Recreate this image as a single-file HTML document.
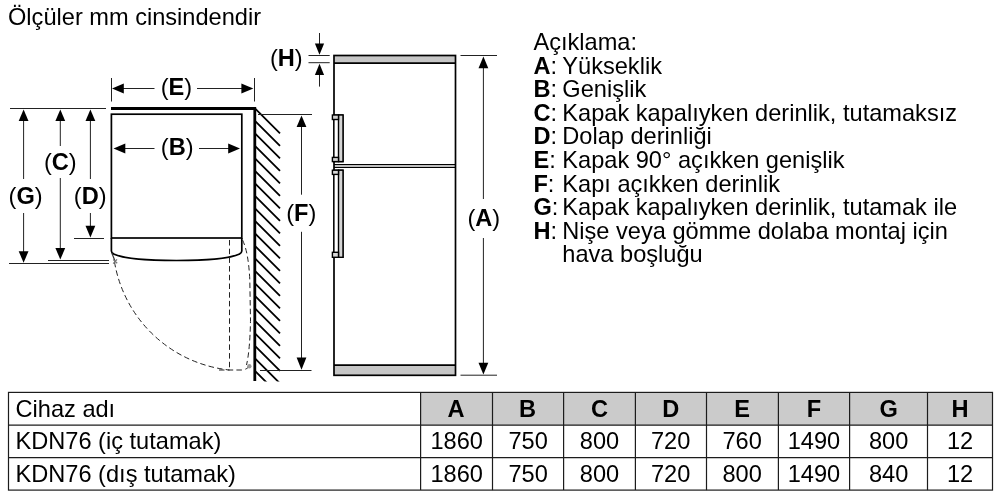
<!DOCTYPE html>
<html>
<head>
<meta charset="utf-8">
<title>Ölçüler</title>
<style>
html,body{margin:0;padding:0;background:#fff;}
body{width:1000px;height:500px;overflow:hidden;font-family:"Liberation Sans",sans-serif;}
svg{display:block;position:absolute;left:0;top:0;will-change:transform;}
svg text{font-family:"Liberation Sans",sans-serif;font-size:23.6px;fill:#000;}
.b{font-weight:bold;}
.thin{stroke:#222;stroke-width:1;fill:none;}
.med{stroke:#000;stroke-width:1.7;fill:none;}
.dash{stroke:#222;stroke-width:1;fill:none;stroke-dasharray:5.5 3.2;}
.ah{fill:#000;stroke:none;}
.hat{stroke:#000;stroke-width:1.8;fill:none;}
</style>
</head>
<body>
<svg width="1000" height="500" viewBox="0 0 1000 500">
<defs>
<clipPath id="wallclip"><rect x="250" y="100" width="40" height="281.5"/></clipPath>
</defs>
<rect x="0" y="0" width="1000" height="500" fill="#fff"/>

<!-- Title -->
<text x="8" y="24.8">Ölçüler mm cinsindendir</text>

<!-- ============ TOP VIEW ============ -->
<!-- reference lines left -->
<line class="thin" x1="10" y1="108.5" x2="106" y2="108.5"/>
<line class="thin" x1="9" y1="263.5" x2="109" y2="263.5"/>
<line class="thin" x1="48" y1="260.5" x2="109" y2="260.5"/>
<line class="thin" x1="74" y1="238.5" x2="104" y2="238.5"/>

<!-- G arrow -->
<line class="thin" x1="23.6" y1="115" x2="23.6" y2="179"/>
<line class="thin" x1="23.6" y1="213" x2="23.6" y2="256"/>
<!-- C arrow -->
<line class="thin" x1="60.3" y1="115" x2="60.3" y2="146"/>
<line class="thin" x1="60.3" y1="178" x2="60.3" y2="253"/>
<!-- D arrow -->
<line class="thin" x1="90.4" y1="115" x2="90.4" y2="179"/>
<line class="thin" x1="90.4" y1="213" x2="90.4" y2="230"/>

<!-- E dimension -->
<line class="thin" x1="111.5" y1="78" x2="111.5" y2="101.5"/>
<line class="thin" x1="254.5" y1="78" x2="254.5" y2="101.5"/>
<line class="thin" x1="120" y1="88.5" x2="154.5" y2="88.5"/>
<line class="thin" x1="197" y1="88.5" x2="245" y2="88.5"/>

<!-- thick top line -->
<line x1="111" y1="108.4" x2="256" y2="108.4" stroke="#000" stroke-width="3"/>

<!-- cabinet box -->
<rect class="med" x="111.4" y="114.2" width="130.4" height="123.8"/>
<!-- door -->
<path class="med" d="M111.4,238 V251 Q111.5,253 113.6,253.9 C132,262.7 221,262.7 239.6,253.9 Q241.7,253 241.8,251 V238"/>

<!-- B dimension -->
<line class="thin" x1="122" y1="148.5" x2="154.5" y2="148.5"/>
<line class="thin" x1="199" y1="148.5" x2="232" y2="148.5"/>

<!-- wall -->
<line x1="254.8" y1="107" x2="254.8" y2="381" stroke="#000" stroke-width="2.8"/>
<g clip-path="url(#wallclip)" class="hat">
<path d="M255.2,108.6 l24.8,24.8 M255.2,121.1 l24.8,24.8 M255.2,133.6 l24.8,24.8 M255.2,146.1 l24.8,24.8 M255.2,158.6 l24.8,24.8 M255.2,171.1 l24.8,24.8 M255.2,183.6 l24.8,24.8 M255.2,196.1 l24.8,24.8 M255.2,208.6 l24.8,24.8 M255.2,221.1 l24.8,24.8 M255.2,233.6 l24.8,24.8 M255.2,246.1 l24.8,24.8 M255.2,258.6 l24.8,24.8 M255.2,271.1 l24.8,24.8 M255.2,283.6 l24.8,24.8 M255.2,296.1 l24.8,24.8 M255.2,308.6 l24.8,24.8 M255.2,321.1 l24.8,24.8 M255.2,333.6 l24.8,24.8 M255.2,346.1 l24.8,24.8 M255.2,358.6 l24.8,24.8 M255.2,371.1 l24.8,24.8"/>
</g>

<!-- dashed door swing -->
<path class="dash" d="M114.5,262 A130.5,130.5 0 0 0 229.5,370"/>
<path class="dash" d="M229.5,240 L229.5,370"/>
<path class="dash" d="M242.5,240 Q248.5,252 249.8,280 L250.5,320 Q250,350 246.5,365"/>
<path class="dash" d="M219,370 L242,370 Q246,369.5 248,367.5"/>
<circle cx="249.3" cy="366.2" r="2.2" fill="#999"/>
<path d="M111.8,253 L115.4,262" stroke="#333" stroke-width="1.2" fill="none"/>
<path d="M113.2,259.6 l4,3.6 M117,259.4 l-3.8,4.2" stroke="#777" stroke-width="1.3" fill="none"/>

<!-- F dimension -->
<line class="thin" x1="258" y1="114.5" x2="312" y2="114.5"/>
<line class="thin" x1="260" y1="370.5" x2="311.5" y2="370.5"/>
<line class="thin" x1="301.5" y1="122" x2="301.5" y2="194.7"/>
<line class="thin" x1="301.5" y1="231.8" x2="301.5" y2="360"/>

<!-- ============ SIDE VIEW ============ -->
<!-- gray bands -->
<rect x="334" y="55.5" width="121.5" height="7.8" fill="#c6c6c6"/>
<rect x="334" y="365" width="121.5" height="10.3" fill="#c6c6c6"/>
<rect class="med" x="334" y="55.5" width="121.5" height="319.8"/>
<line class="thin" x1="334" y1="63.1" x2="455.5" y2="63.1" style="stroke-width:1.7;stroke:#000"/>
<line class="thin" x1="334" y1="365.2" x2="455.5" y2="365.2" style="stroke-width:1.7;stroke:#000"/>
<!-- divider -->
<line class="thin" x1="334" y1="164.7" x2="455.5" y2="164.7" style="stroke-width:1.2;stroke:#000"/>
<line class="thin" x1="334" y1="167.3" x2="455.5" y2="167.3" style="stroke-width:1.2;stroke:#000"/>

<!-- upper handle -->
<g>
<rect x="333.9" y="115" width="9.1" height="46.6" fill="#fff" stroke="#000" stroke-width="1.4"/>
<rect x="338.5" y="115" width="4.5" height="46.6" fill="#d4d4d4" stroke="#000" stroke-width="1.4"/>
<rect x="332.4" y="115" width="6.1" height="4.5" fill="#d0d0d0" stroke="#000" stroke-width="1.4"/>
<rect x="332.4" y="157.4" width="6.1" height="4.2" fill="#d0d0d0" stroke="#000" stroke-width="1.4"/>
</g>
<!-- lower handle -->
<g>
<rect x="333.9" y="170.2" width="9.1" height="87.1" fill="#fff" stroke="#000" stroke-width="1.4"/>
<rect x="338.5" y="170.2" width="4.5" height="87.1" fill="#d4d4d4" stroke="#000" stroke-width="1.4"/>
<rect x="332.4" y="170.2" width="6.1" height="4.2" fill="#d8d8d8" stroke="#000" stroke-width="1.4"/>
<rect x="332.4" y="252.3" width="6.1" height="5.0" fill="#d8d8d8" stroke="#000" stroke-width="1.4"/>
</g>

<!-- H dimension -->
<line class="thin" x1="308.5" y1="55.5" x2="329.7" y2="55.5"/>
<line class="thin" x1="308.5" y1="62.7" x2="329.7" y2="62.7"/>
<line class="thin" x1="319.5" y1="33" x2="319.5" y2="46"/>
<line class="thin" x1="319.5" y1="74" x2="319.5" y2="86.6"/>

<!-- A dimension -->
<line class="thin" x1="460.5" y1="55.5" x2="497" y2="55.5"/>
<line class="thin" x1="460.5" y1="375.2" x2="497" y2="375.2"/>
<line class="thin" x1="483.4" y1="64" x2="483.4" y2="199"/>
<line class="thin" x1="483.4" y1="238" x2="483.4" y2="365"/>

<!-- arrowheads -->
<polygon class="ah" points="23.6,109.4 18.7,121.0 28.5,121.0"/>
<polygon class="ah" points="23.6,262.8 18.7,251.2 28.5,251.2"/>
<polygon class="ah" points="60.3,109.4 55.4,121.0 65.2,121.0"/>
<polygon class="ah" points="60.3,259.6 55.4,248 65.2,248"/>
<polygon class="ah" points="90.4,109.4 85.5,121.0 95.3,121.0"/>
<polygon class="ah" points="90.4,237.4 85.5,225.8 95.3,225.8"/>
<polygon class="ah" points="112,88.5 123.8,83.6 123.8,93.4"/>
<polygon class="ah" points="253.3,88.5 241.4,83.6 241.4,93.4"/>
<polygon class="ah" points="113.5,148.5 125.3,143.6 125.3,153.4"/>
<polygon class="ah" points="240,148.5 228.2,143.6 228.2,153.4"/>
<polygon class="ah" points="301.5,115.4 296.6,127.0 306.4,127.0"/>
<polygon class="ah" points="301.5,369.8 296.6,357.4 306.4,357.4"/>
<polygon class="ah" points="319.5,54.8 314.9,43.6 324.1,43.6"/>
<polygon class="ah" points="319.5,63.8 314.9,75.0 324.1,75.0"/>
<polygon class="ah" points="483.4,56.6 478.5,68.2 488.3,68.2"/>
<polygon class="ah" points="483.4,374.4 478.5,362.8 488.3,362.8"/>

<!-- labels -->
<g text-anchor="middle">
<text x="176.4" y="94.8">(<tspan class="b">E</tspan>)</text>
<text x="177.2" y="155">(<tspan class="b">B</tspan>)</text>
<text x="286.3" y="65.9">(<tspan class="b">H</tspan>)</text>
<text x="60.3" y="170.4">(<tspan class="b">C</tspan>)</text>
<text x="25.6" y="204.2">(<tspan class="b">G</tspan>)</text>
<text x="90.2" y="204.2">(<tspan class="b">D</tspan>)</text>
<text x="301.3" y="220.5">(<tspan class="b">F</tspan>)</text>
<text x="483.8" y="225.5">(<tspan class="b">A</tspan>)</text>
</g>

<!-- ============ LEGEND ============ -->
<g id="legend">
<text x="533.4" y="50">Açıklama:</text>
<text x="533.4" y="73.6"><tspan class="b">A</tspan>:</text><text x="562.3" y="73.6">Yükseklik</text>
<text x="533.4" y="97.2"><tspan class="b">B</tspan>:</text><text x="562.3" y="97.2">Genişlik</text>
<text x="533.4" y="120.8"><tspan class="b">C</tspan>:</text><text x="562.3" y="120.8">Kapak kapalıyken derinlik, tutamaksız</text>
<text x="533.4" y="144.4"><tspan class="b">D</tspan>:</text><text x="562.3" y="144.4">Dolap derinliği</text>
<text x="533.4" y="168.0"><tspan class="b">E</tspan>:</text><text x="562.3" y="168.0">Kapak 90° açıkken genişlik</text>
<text x="533.4" y="191.6"><tspan class="b">F</tspan>:</text><text x="562.3" y="191.6">Kapı açıkken derinlik</text>
<text x="533.4" y="215.2"><tspan class="b">G</tspan>:</text><text x="562.3" y="215.2">Kapak kapalıyken derinlik, tutamak ile</text>
<text x="533.4" y="238.8"><tspan class="b">H</tspan>:</text><text x="562.3" y="238.8">Nişe veya gömme dolaba montaj için</text>
<text x="562.3" y="262.4">hava boşluğu</text>
</g>

<!-- ============ TABLE ============ -->
<g id="table">
<rect x="420.5" y="392.5" width="572" height="32.8" fill="#cbcbcb"/>
<g style="stroke:#1c1c1c;stroke-width:1.2;fill:none">
<rect x="8.5" y="392.4" width="984" height="97.7"/>
<line x1="8.5" y1="425.2" x2="992.5" y2="425.2"/>
<line x1="8.5" y1="457.6" x2="992.5" y2="457.6"/>
<line x1="420.6" y1="392.4" x2="420.6" y2="490.1"/>
<line x1="492.5" y1="392.4" x2="492.5" y2="490.1"/>
<line x1="563.6" y1="392.4" x2="563.6" y2="490.1"/>
<line x1="635.4" y1="392.4" x2="635.4" y2="490.1"/>
<line x1="706.5" y1="392.4" x2="706.5" y2="490.1"/>
<line x1="778.4" y1="392.4" x2="778.4" y2="490.1"/>
<line x1="849.6" y1="392.4" x2="849.6" y2="490.1"/>
<line x1="927.5" y1="392.4" x2="927.5" y2="490.1"/>
</g>
<text x="15.5" y="416.5">Cihaz adı</text>
<text x="15.5" y="449">KDN76 (iç tutamak)</text>
<text x="15.5" y="481.5">KDN76 (dış tutamak)</text>
<g text-anchor="middle">
<g class="b">
<text x="456.1" y="416.5">A</text>
<text x="527.5" y="416.5">B</text>
<text x="599.5" y="416.5">C</text>
<text x="670.7" y="416.5">D</text>
<text x="742.2" y="416.5">E</text>
<text x="814" y="416.5">F</text>
<text x="888.7" y="416.5">G</text>
<text x="960" y="416.5">H</text>
</g>
<text x="456.7" y="449">1860</text>
<text x="528.2" y="449">750</text>
<text x="599.5" y="449">800</text>
<text x="670.7" y="449">720</text>
<text x="742.2" y="449">760</text>
<text x="814" y="449">1490</text>
<text x="888.7" y="449">800</text>
<text x="960" y="449">12</text>
<text x="456.7" y="481.5">1860</text>
<text x="528.2" y="481.5">750</text>
<text x="599.5" y="481.5">800</text>
<text x="670.7" y="481.5">720</text>
<text x="742.2" y="481.5">800</text>
<text x="814" y="481.5">1490</text>
<text x="888.7" y="481.5">840</text>
<text x="960" y="481.5">12</text>
</g>
</g>
</svg>
</body>
</html>
